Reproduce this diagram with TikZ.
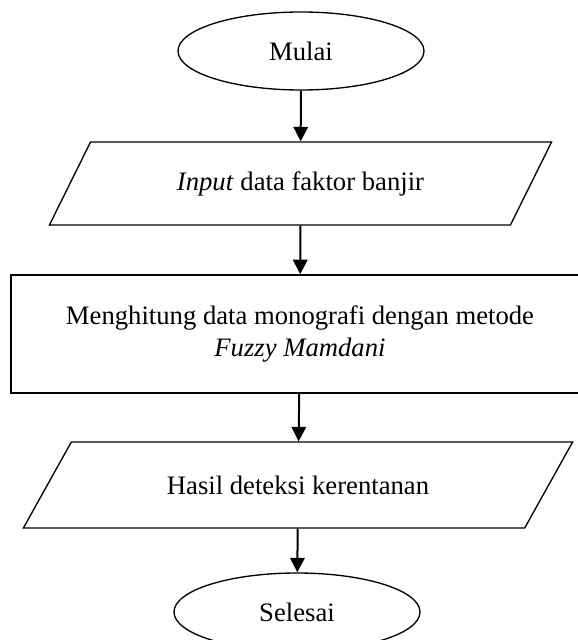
\documentclass[tikz,border=0pt]{standalone}
\usepackage{fontspec}
\setmainfont{Liberation Serif}
\usepackage{tikz}
\usetikzlibrary{arrows.meta, shapes.geometric}

\begin{document}
\begin{tikzpicture}[
    x=0.45pt, y=-0.45pt,
    font=\fontsize{12}{14.4}\selectfont,
    terminal/.style={ellipse, draw, line width=0.6pt, minimum width=246*0.45pt, minimum height=78*0.45pt, inner sep=0pt},
    io/.style={trapezium, draw, line width=0.6pt, trapezium stretches=true, inner sep=0pt},
    process/.style={rectangle, draw, line width=0.75pt, align=center, minimum width=578*0.45pt, minimum height=118*0.45pt},
    arrow/.style={-{Triangle[length=6.5pt, width=6.5pt]}, line width=0.9pt}
]
    \useasboundingbox (0,0) rectangle (577,640);

    % Nodes
    \node[terminal] (mulai) at (301, 51) {Mulai};
    \node[io, trapezium left angle=45.3, trapezium right angle=134.7,
          minimum width=503*0.45pt, minimum height=83*0.45pt] (input) at (300.5, 183.5) {\textit{Input} data faktor banjir};
    \node[process] (hitung) at (300, 334) {Menghitung data monografi dengan metode\\\textit{Fuzzy Mamdani}};
    \node[io, trapezium left angle=34.1, trapezium right angle=145.9,
          minimum width=550*0.45pt, minimum height=86*0.45pt] (hasil) at (298, 485) {Hasil deteksi kerentanan};
    \node[terminal] (selesai) at (297, 612) {Selesai};

    % Arrows
    \draw[arrow] (mulai) -- (input);
    \draw[arrow] (input) -- (hitung);
    \draw[arrow] (hitung) -- (hasil);
    \draw[arrow] (hasil) -- (selesai);
\end{tikzpicture}
\end{document}
